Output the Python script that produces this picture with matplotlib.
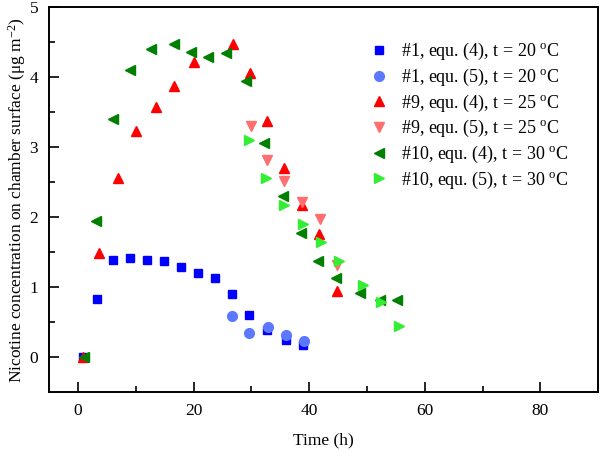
import matplotlib
matplotlib.use("Agg")
import matplotlib.pyplot as plt

plt.rcParams['font.family'] = ['Liberation Serif', 'DejaVu Serif']
plt.rcParams['mathtext.fontset'] = 'custom'
plt.rcParams['mathtext.rm'] = 'Liberation Serif'
plt.rcParams['mathtext.it'] = 'Liberation Serif:italic'

# #1, equ. (4), 20 oC
t1_eq4 = [0.8, 3.2, 6.0, 8.9, 11.9, 14.9, 17.8, 20.7, 23.7, 26.7, 29.6, 32.7, 35.9, 39.0]
c1_eq4 = [0.0, 0.83, 1.39, 1.42, 1.39, 1.38, 1.29, 1.20, 1.14, 0.91, 0.61, 0.39, 0.25, 0.17]
# #1, equ. (5), 20 oC
t1_eq5 = [26.7, 29.6, 32.8, 35.9, 39.1]
c1_eq5 = [0.59, 0.35, 0.44, 0.32, 0.23]
# #9, equ. (4), 25 oC
t9_eq4 = [0.9, 3.6, 6.9, 10.1, 13.4, 16.6, 20.1, 26.8, 29.8, 32.7, 35.7, 38.7, 41.7, 44.8]
c9_eq4 = [0.0, 1.49, 2.56, 3.23, 3.57, 3.88, 4.22, 4.48, 4.06, 3.37, 2.70, 2.17, 1.76, 0.95]
# #9, equ. (5), 25 oC
t9_eq5 = [29.9, 32.7, 35.6, 38.7, 41.8, 44.8]
c9_eq5 = [3.31, 2.82, 2.52, 2.22, 1.98, 1.32]
# #10, equ. (4), 30 oC
t10_eq4 = [1.0, 3.1, 6.0, 8.9, 12.7, 16.6, 19.6, 22.5, 25.6, 29.0, 32.2, 35.4, 38.6, 41.6, 44.7, 48.7, 52.2, 55.2]
c10_eq4 = [0.0, 1.95, 3.40, 4.10, 4.40, 4.47, 4.36, 4.29, 4.35, 3.95, 3.06, 2.30, 1.77, 1.38, 1.14, 0.92, 0.82, 0.82]
# #10, equ. (5), 30 oC
t10_eq5 = [29.5, 32.6, 35.7, 38.9, 42.1, 45.2, 49.3, 52.5, 55.6]
c10_eq5 = [3.10, 2.56, 2.18, 1.90, 1.65, 1.38, 1.03, 0.79, 0.45]

fig = plt.figure(figsize=(6.0, 4.51), dpi=100)
ax = fig.add_axes([0.082, 0.130, 0.915, 0.854])

ax.plot(t1_eq4, c1_eq4, 's', color='#0000ff', ms=6, mec='#0000ff', label='#1, equ. (4), t = 20 $^{\\mathrm{o}}$C')
ax.plot(t1_eq5, c1_eq5, 'o', color='#5b78ff', ms=7, mec='#5b78ff', label='#1, equ. (5), t = 20 $^{\\mathrm{o}}$C')
ax.plot(t9_eq4, c9_eq4, '^', color='#ff0000', ms=7.5, mec='#ff0000', label='#9, equ. (4), t = 25 $^{\\mathrm{o}}$C')
ax.plot(t9_eq5, c9_eq5, 'v', color='#ff6f6f', ms=7.5, mec='#ff6f6f', label='#9, equ. (5), t = 25 $^{\\mathrm{o}}$C')
ax.plot(t10_eq4, c10_eq4, '<', color='#007f00', ms=7.5, mec='#007f00', label='#10, equ. (4), t = 30 $^{\\mathrm{o}}$C')
ax.plot(t10_eq5, c10_eq5, '>', color='#33ee33', ms=7.5, mec='#33ee33', label='#10, equ. (5), t = 30 $^{\\mathrm{o}}$C')

ax.set_xlim(-5, 90)
ax.set_ylim(-0.5, 5)
ax.set_xticks([0, 20, 40, 60, 80])
ax.set_xticks([10, 30, 50, 70], minor=True)
ax.set_yticks([0, 1, 2, 3, 4, 5])
ax.set_yticks([0.5, 1.5, 2.5, 3.5, 4.5], minor=True)
ax.tick_params(which='both', direction='in', width=1.2, labelsize=12.5)
ax.tick_params(which='major', length=7, pad=8)
ax.tick_params(which='minor', length=4)
for s in ax.spines.values():
    s.set_linewidth(1.4)

ax.set_xlabel('Time (h)', fontsize=12.5, labelpad=9)
ax.set_ylabel('Nicotine concentration on chamber surface (\u03bcg m$^{-2}$)', fontsize=12.5, labelpad=1)

ax.legend(loc='upper left', bbox_to_anchor=(0.567, 0.935), frameon=False, fontsize=13,
          numpoints=1, handlelength=1.0, handletextpad=0.75, labelspacing=0.25, borderpad=0)

fig.savefig('out.png', dpi=100)
